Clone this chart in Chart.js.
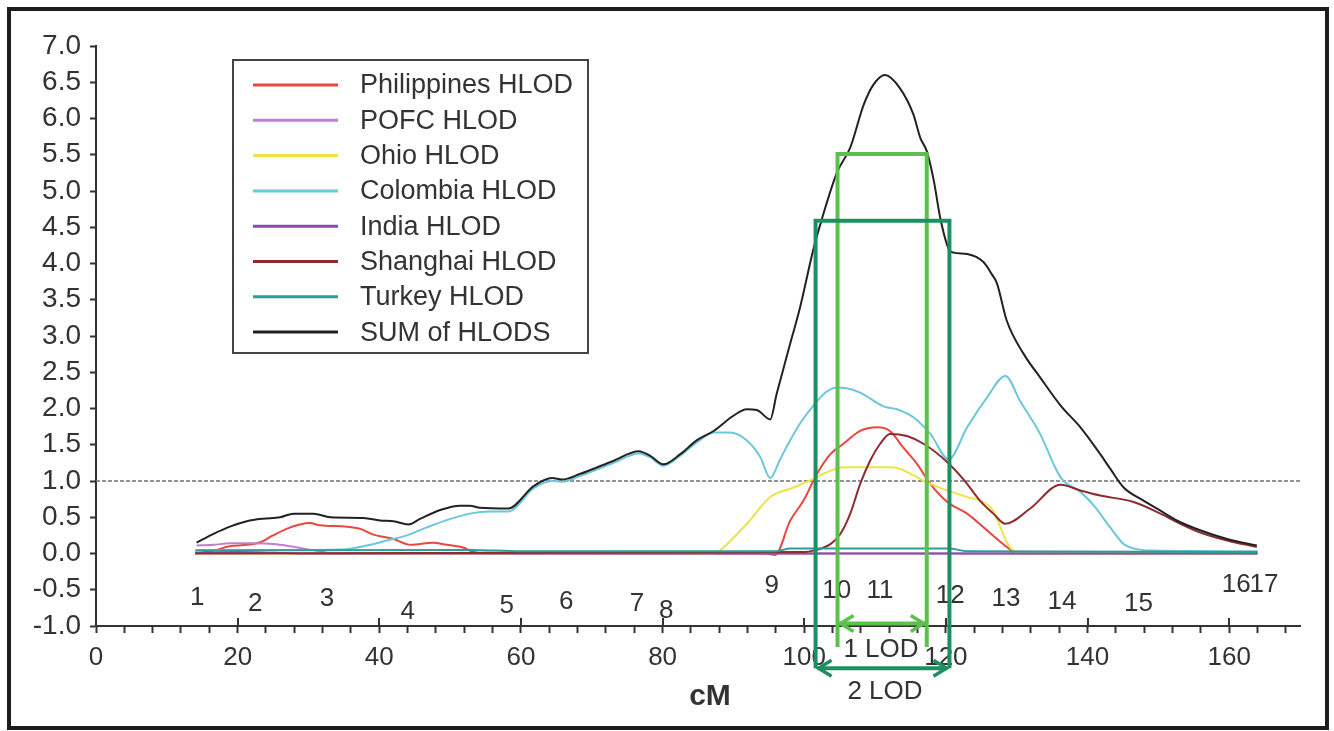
<!DOCTYPE html>
<html><head><meta charset="utf-8">
<script src="https://cdn.jsdelivr.net/npm/chart.js@4.4.1/dist/chart.umd.min.js"></script>
<style>
html,body{margin:0;padding:0;background:#fff;}
#wrap{position:relative;width:1334px;height:731px;overflow:hidden;}
#frame{position:absolute;left:7px;top:7px;width:1322px;height:723px;box-sizing:border-box;border:4px solid #1c1c1c;pointer-events:none;}
canvas{position:absolute;left:0;top:0;}
</style></head><body>
<div id="wrap"><canvas id="c" width="1334" height="731"></canvas><div id="frame"></div></div>
<script>
// ---------------- DATA ----------------
const phCM  = [14.2,16.6,18.9,21.3,23.2,25.0,26.9,28.8,30.2,31.6,35.4,37.3,39.2,42.0,44.4,47.6,49.5,51.9,53.3,55.0,94.5,95.9,98.0,99.9,101.8,103.7,105.5,107.9,110.3,112.1,114.0,115.9,117.8,120.2,123.0,125.8,128.6,129.6,131.0,164.0];
const phLOD = [0.00,0.04,0.10,0.12,0.155,0.25,0.34,0.40,0.42,0.39,0.37,0.34,0.26,0.20,0.12,0.15,0.12,0.08,0.02,0.0,0.0,-0.02,0.45,0.73,1.10,1.37,1.51,1.69,1.74,1.69,1.46,1.24,0.96,0.71,0.55,0.32,0.09,0.02,0.0,0.0];

const pofcCM  = [14.2,16.6,18.9,22.2,25.0,27.4,29.8,31.6,33.5,164.0];
const pofcLOD = [0.11,0.12,0.14,0.14,0.13,0.10,0.06,0.03,0.0,0.0];

const ohioCM  = [14.0,87.5,88.1,91.9,95.2,98.5,101.3,103.2,105.5,108.9,112.1,113.5,115.4,117.3,120.2,123.0,125.3,126.7,127.7,128.6,129.6,131.0,164.0];
const ohioLOD = [0,0,0.04,0.41,0.78,0.91,1.03,1.12,1.19,1.19,1.19,1.17,1.08,0.98,0.87,0.78,0.71,0.59,0.36,0.155,0.03,0,0];

const colCM  = [14.2,20,30,35.4,38.2,41.1,43.9,46.7,49.5,52.8,55.6,58.2,61.8,64.4,65.8,68.4,73.1,76.6,78.2,80.1,82.5,84.8,87.2,89.5,91.9,93.8,95.2,96.6,98.0,99.6,101.3,103.0,104.6,106.0,107.9,111.2,113.1,115.4,117.8,120.4,123.0,125.8,128.4,130.5,133.3,136.2,139.0,140.9,143.2,145.1,147.0,149.3,164.0];
const colLOD = [0.05,0.05,0.05,0.06,0.11,0.18,0.25,0.36,0.46,0.55,0.58,0.58,0.90,1.00,0.99,1.07,1.25,1.38,1.33,1.21,1.35,1.53,1.67,1.67,1.56,1.33,1.04,1.30,1.56,1.82,2.04,2.22,2.29,2.28,2.22,2.03,1.99,1.88,1.65,1.30,1.74,2.15,2.45,2.10,1.65,1.05,0.85,0.66,0.36,0.13,0.06,0.04,0.03];

const indiaCM  = [14.0,20.0,25.0,30.0,164.0];
const indiaLOD = [0.01,0.02,0.01,0.0,0.0];

const shCM  = [14.0,100.0,101.3,103.7,105.1,106.5,107.9,109.3,110.7,112.1,114.5,116.9,120.2,122.6,124.8,126.7,128.4,131.9,136.2,139.0,141.8,146.5,150.3,153.1,155.9,159.7,163.9];
const shLOD = [0,0.02,0.04,0.13,0.27,0.55,0.96,1.28,1.51,1.65,1.62,1.51,1.26,1.01,0.73,0.55,0.41,0.62,0.95,0.87,0.80,0.71,0.55,0.41,0.29,0.18,0.09];

const turCM  = [14.0,53.0,60.0,96.0,98.0,120.5,123.0,164.0];
const turLOD = [0.04,0.05,0.03,0.03,0.07,0.07,0.03,0.02];

const sumCM  = [14.2,16.6,18.9,21.3,23.6,26.0,27.9,30.7,33.1,37.8,40.1,42.0,44.1,45.8,48.6,51.4,52.8,54.2,58.2,61.8,64.4,65.8,68.4,73.1,76.6,78.2,80.1,82.5,84.8,87.2,90.0,91.9,93.3,95.2,96.1,98.0,99.4,101.3,102.3,104.6,106.5,108.4,109.8,111.4,113.5,115.4,116.4,117.3,118.3,119.2,120.4,121.1,123.0,125.3,126.5,127.2,128.6,131.0,133.3,136.2,139.0,141.8,143.2,145.1,147.9,150.3,152.6,155.9,159.7,163.9];
const sumLOD = [0.15,0.27,0.37,0.445,0.48,0.50,0.55,0.55,0.50,0.49,0.455,0.445,0.40,0.48,0.60,0.66,0.66,0.63,0.62,0.93,1.04,1.02,1.10,1.28,1.41,1.35,1.23,1.37,1.56,1.69,1.90,1.99,1.98,1.85,2.20,2.89,3.39,4.20,4.55,5.25,5.60,6.19,6.47,6.60,6.42,6.06,5.73,5.55,5.14,4.63,4.20,4.15,4.13,4.02,3.85,3.73,3.21,2.75,2.43,2.04,1.74,1.37,1.17,0.91,0.73,0.59,0.455,0.32,0.20,0.11];

const thresholdLOD = 1.0;

const markerLabels = ['1','2','3','4','5','6','7','8','9','10','11','12','13','14','15','16','17'];
const markerCM     = [14.3,22.5,32.6,44.0,58.0,66.4,76.4,80.5,95.4,104.6,110.7,120.6,128.5,136.4,147.2,161.0,164.9];

const oneLOD = [104.7, 117.3];   // cM interval
const oneLODTop = 5.51;
const twoLOD = [101.6, 120.5];
const twoLODTop = 4.59;

// ---------------- LAYOUT / STYLE ----------------
const markerLabelY = [-0.61,-0.70,-0.62,-0.80,-0.72,-0.66,-0.70,-0.79,-0.44,-0.51,-0.51,-0.59,-0.62,-0.66,-0.69,-0.43,-0.43];
const FONT = "'Liberation Sans', Arial, sans-serif";
const TXT = '#333';
const AX = '#333';

const series = [
  {label:'Philippines HLOD', cm:phCM,    lod:phLOD,    color:'#e8473f'},
  {label:'POFC HLOD',        cm:pofcCM,  lod:pofcLOD,  color:'#c07fcf'},
  {label:'Ohio HLOD',        cm:ohioCM,  lod:ohioLOD,  color:'#ece44a'},
  {label:'Colombia HLOD',    cm:colCM,   lod:colLOD,   color:'#6cc7da'},
  {label:'India HLOD',       cm:indiaCM, lod:indiaLOD, color:'#8a4bb0'},
  {label:'Shanghai HLOD',    cm:shCM,    lod:shLOD,    color:'#8e2b2e'},
  {label:'Turkey HLOD',      cm:turCM,   lod:turLOD,   color:'#2a9d9c'},
  {label:'SUM of HLODS',     cm:sumCM,   lod:sumLOD,   color:'#222222'}
];

function pts(xs, ys){ return xs.map((x,i)=>({x:x, y:ys[i]})); }

const datasets = series.map((s,i)=>({
  label:s.label, data:pts(s.cm,s.lod), borderColor:s.color, backgroundColor:s.color,
  borderWidth:2, pointRadius:0, cubicInterpolationMode:'monotone', fill:false,
  order: s.label==='SUM of HLODS' ? 0 : 8-i
}));
datasets.push({
  label:'threshold', data:pts([0,170],[thresholdLOD,thresholdLOD]),
  borderColor:'#707070', borderWidth:1.5, borderDash:[4,2], pointRadius:0, fill:false, order:20
});

function drawLODBox(ctx, x, y, iv, top, bottomVal, arrowVal, color){
  const l = x.getPixelForValue(iv[0]), r = x.getPixelForValue(iv[1]);
  const t = y.getPixelForValue(top), b = y.getPixelForValue(bottomVal), a = y.getPixelForValue(arrowVal);
  ctx.strokeStyle = color; ctx.lineWidth = 4; ctx.lineJoin='miter'; ctx.lineCap='butt';
  ctx.beginPath(); ctx.moveTo(l,b); ctx.lineTo(l,t); ctx.lineTo(r,t); ctx.lineTo(r,b); ctx.stroke();
  // arrow
  ctx.beginPath(); ctx.moveTo(l+2,a); ctx.lineTo(r-2,a); ctx.stroke();
  ctx.lineWidth = 3.5;
  ctx.beginPath(); ctx.moveTo(l+16,a-8); ctx.lineTo(l+3,a); ctx.lineTo(l+16,a+8); ctx.stroke();
  ctx.beginPath(); ctx.moveTo(r-16,a-8); ctx.lineTo(r-3,a); ctx.lineTo(r-16,a+8); ctx.stroke();
}

const annot = {
  id:'annot',
  afterDraw(chart){
    const {ctx, scales:{x,y}} = chart;
    ctx.save();
    // major ticks crossing the x axis
    ctx.strokeStyle = AX; ctx.lineWidth = 2;
    for(let v=0; v<=160; v+=20){
      const px = Math.round(x.getPixelForValue(v));
      ctx.beginPath(); ctx.moveTo(px, y.bottom-8); ctx.lineTo(px, y.bottom); ctx.stroke();
    }
    // marker numbers
    ctx.fillStyle = TXT; ctx.font = '26px ' + FONT; ctx.textAlign='center'; ctx.textBaseline='middle';
    markerLabels.forEach((t,i)=> ctx.fillText(t, x.getPixelForValue(markerCM[i]), y.getPixelForValue(markerLabelY[i])));
    // LOD support intervals
    drawLODBox(ctx, x, y, oneLOD, oneLODTop, -1.29, -0.965, '#5dbf4d');
    drawLODBox(ctx, x, y, twoLOD, twoLODTop, -1.584, -1.584, '#1f8f60');
    ctx.fillStyle = TXT; ctx.font = '26px ' + FONT;
    ctx.fillText('1 LOD', 881, 650);
    ctx.fillText('2 LOD', 885, 692);
    // axis title
    ctx.font = 'bold 30px ' + FONT;
    ctx.fillText('cM', 710, 697);
    // legend
    const lx = 233, ly = 60, lw = 355, lh = 293;
    ctx.fillStyle = '#fff'; ctx.fillRect(lx, ly, lw, lh);
    ctx.strokeStyle = '#444'; ctx.lineWidth = 2; ctx.strokeRect(lx, ly, lw, lh);
    ctx.font = '27px ' + FONT; ctx.textAlign='left'; ctx.textBaseline='middle';
    chart.data.datasets.slice(0, series.length).forEach((d,i)=>{
      const ry = 85 + i*35.3;
      ctx.strokeStyle = d.borderColor; ctx.lineWidth = 3;
      ctx.beginPath(); ctx.moveTo(253, ry); ctx.lineTo(338, ry); ctx.stroke();
      ctx.fillStyle = TXT; ctx.fillText(d.label, 360, ry+1);
    });
    ctx.restore();
  }
};

new Chart(document.getElementById('c'), {
  type:'line',
  data:{datasets},
  options:{
    responsive:false, animation:false, devicePixelRatio:1,
    layout:{padding:{left:0, top:46, right:34, bottom:0}},
    plugins:{legend:{display:false}, tooltip:{enabled:false}},
    scales:{
      x:{
        type:'linear', min:0, max:170,
        afterFit(s){ s.height = 105; },
        border:{display:true, color:AX, width:2},
        grid:{drawOnChartArea:false, drawTicks:true, tickLength:7, tickColor:AX, tickWidth:2},
        ticks:{stepSize:4, includeBounds:false, autoSkip:false, maxRotation:0, padding:9, color:TXT,
               font:{family:FONT, size:26},
               callback:(v)=> (v%20===0 ? String(v) : '')}
      },
      y:{
        min:-1, max:7,
        afterFit(s){ s.width = 96; },
        border:{display:true, color:AX, width:2},
        grid:{drawOnChartArea:false, drawTicks:true, tickLength:6, tickColor:AX, tickWidth:2},
        ticks:{stepSize:0.5, autoSkip:false, padding:9, color:TXT, font:{family:FONT, size:28},
               callback:(v)=> Number(v).toFixed(1)}
      }
    }
  },
  plugins:[annot]
});
</script>
</body></html>
